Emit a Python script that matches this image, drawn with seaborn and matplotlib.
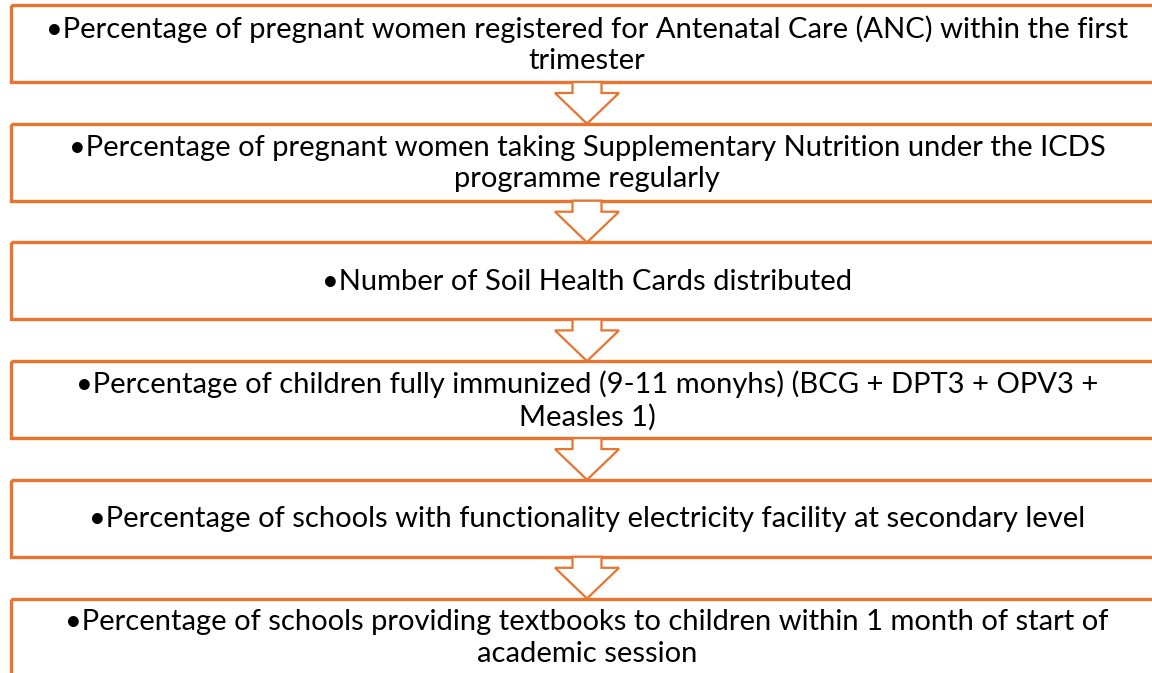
import matplotlib.pyplot as plt
import seaborn as sns
from matplotlib.patches import Rectangle, Polygon

# indicator steps of the flow, line breaks as in the reference
steps = [
    "\u2022Percentage of pregnant women registered for Antenatal Care (ANC) within the first\ntrimester",
    "\u2022Percentage of pregnant women taking Supplementary Nutrition under the ICDS\nprogramme regularly",
    "\u2022Number of Soil Health Cards distributed",
    "\u2022Percentage of children fully immunized (9-11 monyhs) (BCG + DPT3 + OPV3 +\nMeasles 1)",
    "\u2022Percentage of schools with functionality electricity facility at secondary level",
    "\u2022Percentage of schools providing textbooks to children within 1 month of start of\nacademic session",
]

sns.set_theme(style="white")
plt.rcParams['font.family'] = ['Lato', 'DejaVu Sans']

orange = '#E8742F'
W, H = 1152, 673
fig = plt.figure(figsize=(W / 100, H / 100), dpi=100)
ax = fig.add_axes([0, 0, 1, 1])
ax.set_xlim(0, W)
ax.set_ylim(H, 0)
ax.axis('off')

left, right = 11, 1163
top0, box_h, pitch = 5, 77, 118.7
cx = (left + right) / 2

for i, label in enumerate(steps):
    top = top0 + i * pitch
    ax.add_patch(Rectangle((left, top), right - left, box_h, fill=False,
                           edgecolor=orange, linewidth=2.4, zorder=2))
    ax.text(cx, top + box_h / 2 + 1, label, ha='center', va='center',
            fontsize=21, color='black', linespacing=1.24, zorder=3)

    # down arrow between this box and the next one
    if i < len(steps) - 1:
        b = top + box_h
        nxt = top0 + (i + 1) * pitch
        sh = b + 11
        ax.add_patch(Polygon([(cx - 14.5, b), (cx + 14.5, b), (cx + 14.5, sh),
                              (cx + 32, sh), (cx, nxt), (cx - 32, sh), (cx - 14.5, sh)],
                             closed=True, facecolor='white', edgecolor=orange,
                             linewidth=1.6, joinstyle='miter', zorder=4))

fig.savefig('out.png', dpi=100, facecolor='white')
